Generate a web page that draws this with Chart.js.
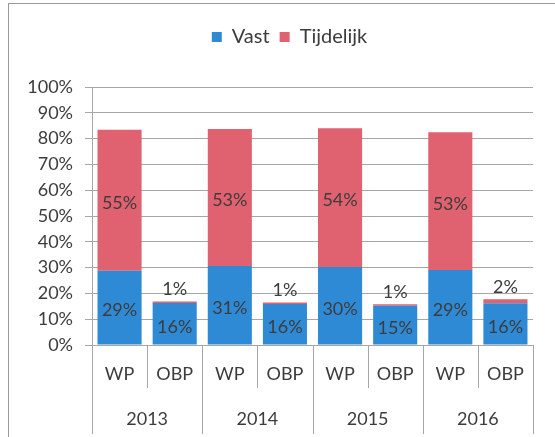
<!DOCTYPE html>
<html>
<head>
<meta charset="utf-8">
<script src="https://cdn.jsdelivr.net/npm/chart.js@4/dist/chart.umd.min.js"></script>
<style>
  html, body { margin: 0; padding: 0; background: #fff; }
  #wrap { position: relative; width: 555px; height: 437px; overflow: hidden; }
  #frame { position: absolute; left: 8px; top: 3px; width: 700px; height: 600px; border: 1px solid #9a9a9a; box-sizing: border-box; pointer-events: none; }
  canvas { position: absolute; left: 0; top: 0; }
</style>
</head>
<body>
<div id="wrap">
  <div id="frame"></div>
  <canvas id="c" width="555" height="437"></canvas>
</div>
<script>
// ---- data ----
const years = ['2013', '2014', '2015', '2016'];
const groups = ['WP', 'OBP'];
const categories = ['WP', 'OBP', 'WP', 'OBP', 'WP', 'OBP', 'WP', 'OBP'];
const vast = [28.8, 16.3, 30.6, 15.9, 30.2, 15.2, 29.1, 16.2];
const tijdelijk = [54.6, 0.6, 53.1, 0.6, 53.8, 0.6, 53.4, 1.5];
const yTicks = [0, 10, 20, 30, 40, 50, 60, 70, 80, 90, 100];

const FONT = 'Lato, "Open Sans", sans-serif';
const TXT = '#3c3c3c';
const GRID = '#a6a6a6';
const BLUE = '#2f8ad6';
const RED = '#e0616f';

const valueLabels = {
  id: 'valueLabels',
  afterDatasetsDraw(chart) {
    const ctx = chart.ctx;
    ctx.save();
    ctx.font = '18px ' + FONT;
    ctx.textAlign = 'center';
    ctx.textBaseline = 'middle';
    chart.data.datasets.forEach((ds, d) => {
      const meta = chart.getDatasetMeta(d);
      meta.data.forEach((el, i) => {
        const v = ds.data[i];
        const txt = Math.round(v) + '%';
        let y;
        const isOBP = categories[i] === 'OBP';
        if (d === 1 && isOBP) {
          y = el.y - 12;
        } else {
          y = (el.y + el.base) / 2 + 3;
        }
        ctx.fillStyle = TXT;
        ctx.fillText(txt, el.x, y);
      });
    });
    ctx.restore();
  }
};

const separators = {
  id: 'separators',
  afterDraw(chart) {
    const xs = chart.scales.x;
    const x2 = chart.scales.x2;
    const ctx = chart.ctx;
    const w = xs.getPixelForValue(1) - xs.getPixelForValue(0);
    ctx.save();
    ctx.strokeStyle = GRID;
    ctx.lineWidth = 1;
    for (let i = 0; i <= categories.length; i++) {
      const px = Math.round(xs.getPixelForValue(0) - w / 2 + i * w) + 0.5;
      const yEnd = (i % 2 === 0) ? x2.bottom : xs.bottom;
      ctx.beginPath();
      ctx.moveTo(px, chart.chartArea.bottom);
      ctx.lineTo(px, yEnd);
      ctx.stroke();
    }
    ctx.restore();
  }
};

// nudge the legend block to the right, as in the original
const legendShift = {
  id: 'legendShift',
  afterLayout(chart) {
    const lg = chart.legend;
    if (lg) { lg.left += 23; lg.right += 23; }
  }
};

new Chart(document.getElementById('c'), {
  type: 'bar',
  data: {
    labels: categories,
    datasets: [
      { label: 'Vast', data: vast, backgroundColor: BLUE, borderWidth: 0, xAxisID: 'x' },
      { label: 'Tijdelijk', data: tijdelijk, backgroundColor: RED, borderWidth: 0, xAxisID: 'x' }
    ]
  },
  options: {
    responsive: false,
    animation: false,
    devicePixelRatio: 1,
    layout: { padding: { left: 0, right: 22, top: 17, bottom: 3 } },
    datasets: { bar: { categoryPercentage: 1.0, barPercentage: 0.8 } },
    plugins: {
      legend: {
        position: 'top',
        labels: { font: { family: FONT, size: 20 }, color: TXT, boxWidth: 10, boxHeight: 10, padding: 10 }
      },
      title: { display: true, text: '', weight: 500, position: 'top', padding: { top: 0, bottom: 0 }, font: { size: 25 } },
      tooltip: { enabled: false }
    },
    scales: {
      x: {
        stacked: true,
        offset: true,
        grid: { display: false, drawTicks: false, tickLength: 0 },
        border: { display: false },
        ticks: { font: { family: FONT, size: 18 }, color: TXT, padding: 18, maxRotation: 0, autoSkip: false },
        afterFit(s) { s.height = 43; }
      },
      x2: {
        type: 'category',
        labels: years,
        position: 'bottom',
        offset: true,
        grid: { display: false, drawTicks: false, tickLength: 0 },
        border: { display: false },
        ticks: { font: { family: FONT, size: 18 }, color: TXT, padding: 20, maxRotation: 0, autoSkip: false },
        afterFit(s) { s.height = 46; }
      },
      y: {
        stacked: true,
        min: 0,
        max: 100,
        afterBuildTicks(s) { s.ticks = yTicks.map(v => ({ value: v })); },
        grid: { color: GRID, tickLength: 7, drawTicks: true },
        border: { display: true, color: GRID },
        ticks: { font: { family: FONT, size: 18 }, color: TXT, padding: 12, callback: v => v + '%' },
        afterFit(s) { s.width = 92; }
      }
    }
  },
  plugins: [valueLabels, separators, legendShift]
});
</script>
</body>
</html>
